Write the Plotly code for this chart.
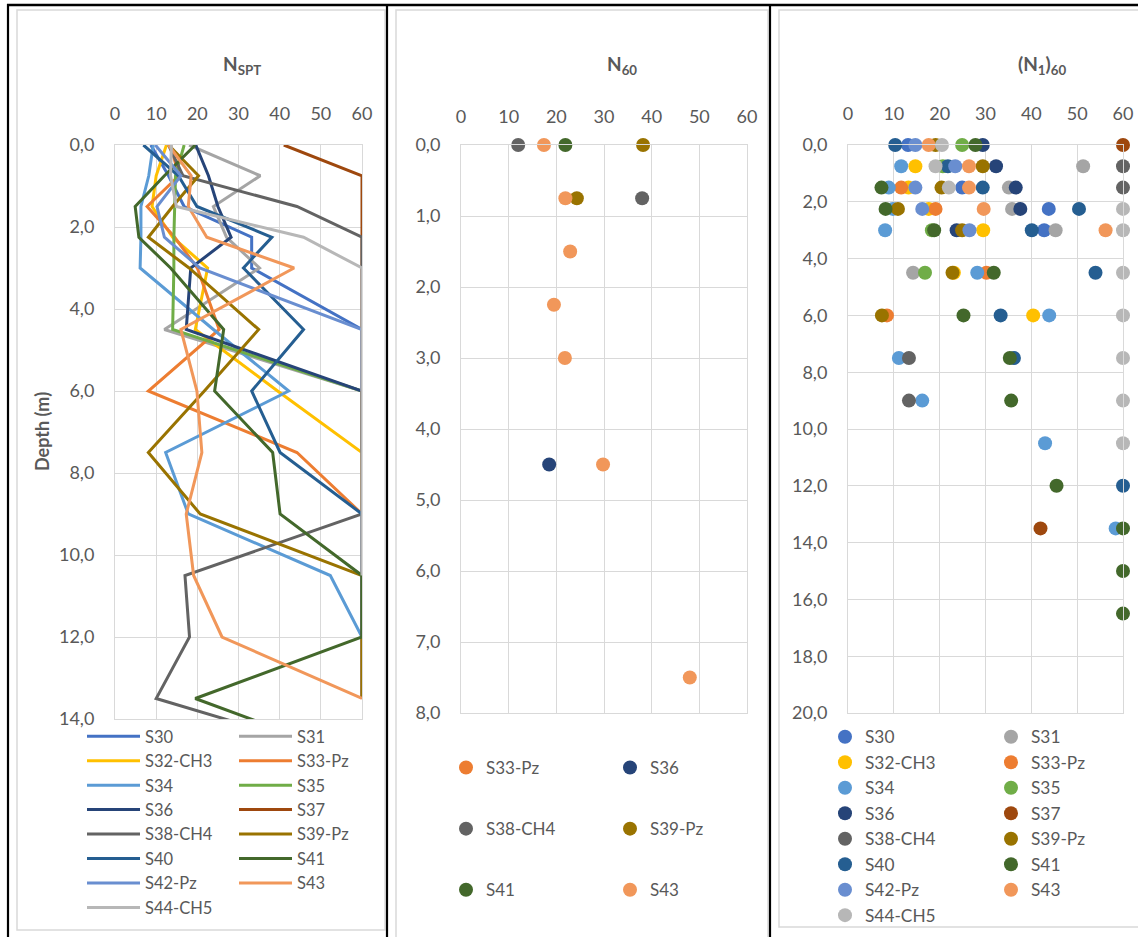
import plotly.graph_objects as go

W, H = 1138, 937

DEPTHS = [0.0, 0.75, 1.5, 2.25, 3.0, 4.5, 6.0, 7.5, 9.0, 10.5, 12.0, 13.5, 15.0, 16.5]
SERIES = ["S30", "S31", "S32-CH3", "S33-Pz", "S34", "S35", "S36", "S37",
          "S38-CH4", "S39-Pz", "S40", "S41", "S42-Pz", "S43", "S44-CH5"]
COLORS = ["#4472C4", "#A5A5A5", "#FFC000", "#ED7D31", "#5B9BD5", "#70AD47",
          "#264478", "#9E480E", "#636363", "#997300", "#255E91", "#43682B",
          "#698ED0", "#F1975A", "#B7B7B7"]

X_TICKS = [0, 10, 20, 30, 40, 50, 60]

# ---- N_SPT (panel 1), values at DEPTHS ----
NSPT_S30 = [8.7, 13.0, 16.8, 33.2, 33.2, 60, 60]
NSPT_S31 = [18.0, 35.3, 23.9, 27.1, 35.1, 12.0, 60, 60, 60]
NSPT_S32 = [12.5, 10.0, 9.0, 14.0, 22.5, 19.5, 39.5, 60, 60]
NSPT_S33 = [13.5, 15.5, 7.8, 14.5, 20.0, 25.3, 8.1, 44.2, 60]
NSPT_S34 = [9.3, 8.2, 6.3, 6.3, 6.1, 23.9, 42.2, 12.3, 17.8, 52.3, 60, 60]
NSPT_S35 = [16.8, 14.7, 14.5, 14.3, 14.3, 14.0, 60, 60]
NSPT_S36 = [19.6, 22.7, 25.0, 28.2, 18.4, 17.3, 60, 60]
NSPT_S37 = [41.0, 60, 60, 60, 60, 60, 60, 60, 60, 60, 60, 60]
NSPT_S38 = [13.0, 16.5, 44.2, 60, 60, 60, 60, 60, 60, 17.0, 18.1, 10.0, 60]
NSPT_S39 = [13.0, 20.3, 14.0, 8.1, 18.0, 34.9, 21.7, 8.1, 20.7, 60, 60, 60]
NSPT_S40 = [6.9, 15.4, 19.9, 38.1, 31.2, 45.8, 33.2, 40.1, 60, 60, 60]
NSPT_S41 = [19.5, 12.0, 4.9, 5.8, 13.5, 26.4, 24.2, 38.3, 40.1, 60, 60, 19.5, 60, 60]
NSPT_S42 = [9.8, 16.0, 10.2, 12.0, 20.6, 60, 60]
NSPT_S43 = [13.0, 18.5, 17.8, 22.3, 43.5, 16.0, 19.9, 21.1, 17.3, 19.1, 26.0, 60]
NSPT_S44 = [13.7, 13.5, 14.9, 45.8, 60, 60, 60, 60, 60, 60]

# ---- N60 (panel 2), values at DEPTHS (None = no point) ----
N60_S33 = [None]
N60_S36 = [None, None, None, None, None, 18.5]
N60_S38 = [12.0, 38.0]
N60_S39 = [38.2, 24.3]
N60_S41 = [21.9]
N60_S43 = [17.4, 21.9, 22.9, 19.5, 21.8, 29.8, None, 48.0]

# ---- (N1)60 (panel 3), values at DEPTHS (None = no point) ----
N160_S30 = [13.1, None, 24.9, 43.8, 42.8]
N160_S31 = [None, 51.3, 35.1, 35.8, 45.3, 14.2]
N160_S32 = [None, 14.7, 13.2, 17.6, 29.5, 23.1, 40.4]
N160_S33 = [None, None, 11.6, 19.1, None, 30.2, 8.5]
N160_S34 = [None, 11.6, 8.9, 9.8, 8.1, 28.2, 43.9, 11.1, 16.2, 43.0, None, 58.4]
N160_S35 = [24.9, 20.7, None, None, 18.3, 16.8]
N160_S36 = [29.4, 32.3, 36.6, 37.6, 23.7]
N160_S37 = [60, None, None, None, None, None, None, None, None, None, None, 42.0]
N160_S38 = [None, 60, 60, None, None, None, None, 13.3, 13.3]
N160_S39 = [19.1, 29.4, 20.4, 10.9, 24.9, 22.8, 7.4]
N160_S40 = [10.3, 21.8, 29.4, 50.4, 40.1, 54.0, 33.3, 36.2, None, None, 60]
N160_S41 = [27.8, None, 7.3, 8.2, 18.8, 31.8, 25.2, 35.3, 35.6, None, 45.5, 60, 60, 60]
N160_S42 = [14.7, 23.4, 14.7, 16.2, 26.5]
N160_S43 = [17.6, 26.4, 26.4, 29.6, 56.2]
N160_S44 = [20.5, 19.1, 22.0, 60, 60, 60, 60, 60, 60, 60]

NSPT = [NSPT_S30, NSPT_S31, NSPT_S32, NSPT_S33, NSPT_S34, NSPT_S35, NSPT_S36, NSPT_S37,
        NSPT_S38, NSPT_S39, NSPT_S40, NSPT_S41, NSPT_S42, NSPT_S43, NSPT_S44]
N160 = [N160_S30, N160_S31, N160_S32, N160_S33, N160_S34, N160_S35, N160_S36, N160_S37,
        N160_S38, N160_S39, N160_S40, N160_S41, N160_S42, N160_S43, N160_S44]
N60_NAMES = ["S33-Pz", "S36", "S38-CH4", "S39-Pz", "S41", "S43"]
N60 = [N60_S33, N60_S36, N60_S38, N60_S39, N60_S41, N60_S43]

FONT = "Lato, Liberation Sans, sans-serif"
GREY = "#595959"
GRID = "#D9D9D9"


def px(x):
    return x / W


def py(y):
    return 1 - y / H


def pts(vals):
    xs, ys = [], []
    for d, v in zip(DEPTHS, vals):
        xs.append(v)
        ys.append(d)
    return xs, ys


fig = go.Figure()

# Panel 1: lines
for i, (name, col, vals) in enumerate(zip(SERIES, COLORS, NSPT)):
    xs, ys = pts(vals)
    fig.add_trace(go.Scatter(
        x=xs, y=ys, mode="lines", name=name,
        line=dict(color=col, width=3),
        xaxis="x", yaxis="y",
        legend="legend" if i % 2 == 0 else "legend2"))

# Panel 2: markers
for i, (name, vals) in enumerate(zip(N60_NAMES, N60)):
    col = COLORS[SERIES.index(name)]
    xs, ys = pts(vals)
    fig.add_trace(go.Scatter(
        x=xs, y=ys, mode="markers", name=name,
        marker=dict(color=col, size=14, line=dict(width=0)),
        cliponaxis=False, xaxis="x2", yaxis="y2",
        legendgroup="p2_" + name,
        legend="legend3" if i % 2 == 0 else "legend4"))

# Panel 3: markers
for i, (name, col, vals) in enumerate(zip(SERIES, COLORS, N160)):
    xs, ys = pts(vals)
    fig.add_trace(go.Scatter(
        x=xs, y=ys, mode="markers", name=name,
        marker=dict(color=col, size=14, line=dict(width=0)),
        cliponaxis=False, xaxis="x3", yaxis="y3",
        legend="legend5" if i % 2 == 0 else "legend6"))

tickfont = dict(family=FONT, size=18, color=GREY)


def xax(dom, standoff=17):
    return dict(domain=dom, range=[0, 60], tickvals=X_TICKS, side="top",
                showgrid=True, gridcolor=GRID, gridwidth=1, zeroline=False,
                showline=True, mirror=True, linecolor=GRID, linewidth=1,
                ticks="", tickfont=tickfont, ticklabelstandoff=standoff, fixedrange=True,
                automargin=False)


def yax(dom, top, dtick):
    return dict(domain=dom, range=[top, 0], dtick=dtick, tick0=0, tickformat=".1f",
                showgrid=True, gridcolor=GRID, gridwidth=1, zeroline=False,
                showline=True, mirror=True, linecolor=GRID, linewidth=1,
                ticks="", tickfont=tickfont, ticklabelstandoff=16, fixedrange=True,
                automargin=False)


def leg(x, y, size=17, itemwidth=30, gap=0):
    return dict(x=px(x), y=py(y), xanchor="left", yanchor="top", orientation="v",
                bgcolor="rgba(0,0,0,0)", borderwidth=0,
                font=dict(family=FONT, size=size, color=GREY),
                itemwidth=itemwidth, tracegroupgap=gap, itemclick=False,
                itemdoubleclick=False)


fig.update_layout(
    width=W, height=H, margin=dict(l=0, r=0, t=0, b=0, pad=0, autoexpand=False),
    paper_bgcolor="white", plot_bgcolor="white",
    separators=", ",
    font=dict(family=FONT, color=GREY),
    xaxis=dict(xax([px(115), px(362)]), anchor="y"),
    yaxis=dict(yax([py(719), py(145)], 14, 2), anchor="x"),
    xaxis2=dict(xax([px(461), px(747)], standoff=14), anchor="y2"),
    yaxis2=dict(yax([py(713), py(145)], 8, 1), anchor="x2"),
    xaxis3=dict(xax([px(848), px(1123)]), anchor="y3"),
    yaxis3=dict(yax([py(713), py(145)], 20, 2), anchor="x3"),
    legend=leg(82, 719, size=16.5, itemwidth=53),
    legend2=leg(234, 719, size=16.5, itemwidth=53),
    legend3=leg(446, 750, gap=36),
    legend4=leg(610, 750, gap=36),
    legend5=leg(825, 719, size=17.3),
    legend6=leg(991, 719, size=17.3),
    showlegend=True,
)

titles = [("<b>N<sub>SPT</sub></b>", 242), ("<b>N<sub>60</sub></b>", 622),
          ("<b>(N<sub>1</sub>)<sub>60</sub></b>", 1042)]
for txt, xc in titles:
    fig.add_annotation(x=px(xc), y=py(65), xref="paper", yref="paper", text=txt,
                       showarrow=False, xanchor="center", yanchor="middle",
                       font=dict(family=FONT, size=19, color=GREY))

fig.add_annotation(x=px(42), y=py(432), xref="paper", yref="paper",
                   text="<b>Depth (m)</b>", textangle=-90, showarrow=False,
                   xanchor="center", yanchor="middle",
                   font=dict(family=FONT, size=18, color=GREY))

# chart-area borders (light grey) and table borders (black)
for x0, y0, x1, y1 in [(17, 10, 385, 930), (396, 10, 768, 940), (779, 10, 1145, 927)]:
    fig.add_shape(type="rect", xref="paper", yref="paper",
                  x0=px(x0), x1=px(x1), y0=py(y1), y1=py(y0),
                  line=dict(color=GRID, width=1.5), fillcolor="rgba(0,0,0,0)", layer="below")
fig.add_shape(type="line", xref="paper", yref="paper", x0=px(7), x1=1.01, y0=py(5), y1=py(5),
              line=dict(color="black", width=2.5))
for xv in [8, 387, 770]:
    fig.add_shape(type="line", xref="paper", yref="paper", x0=px(xv), x1=px(xv),
                  y0=py(4), y1=-0.01, line=dict(color="black", width=2.2))

fig.write_html("out.html")
